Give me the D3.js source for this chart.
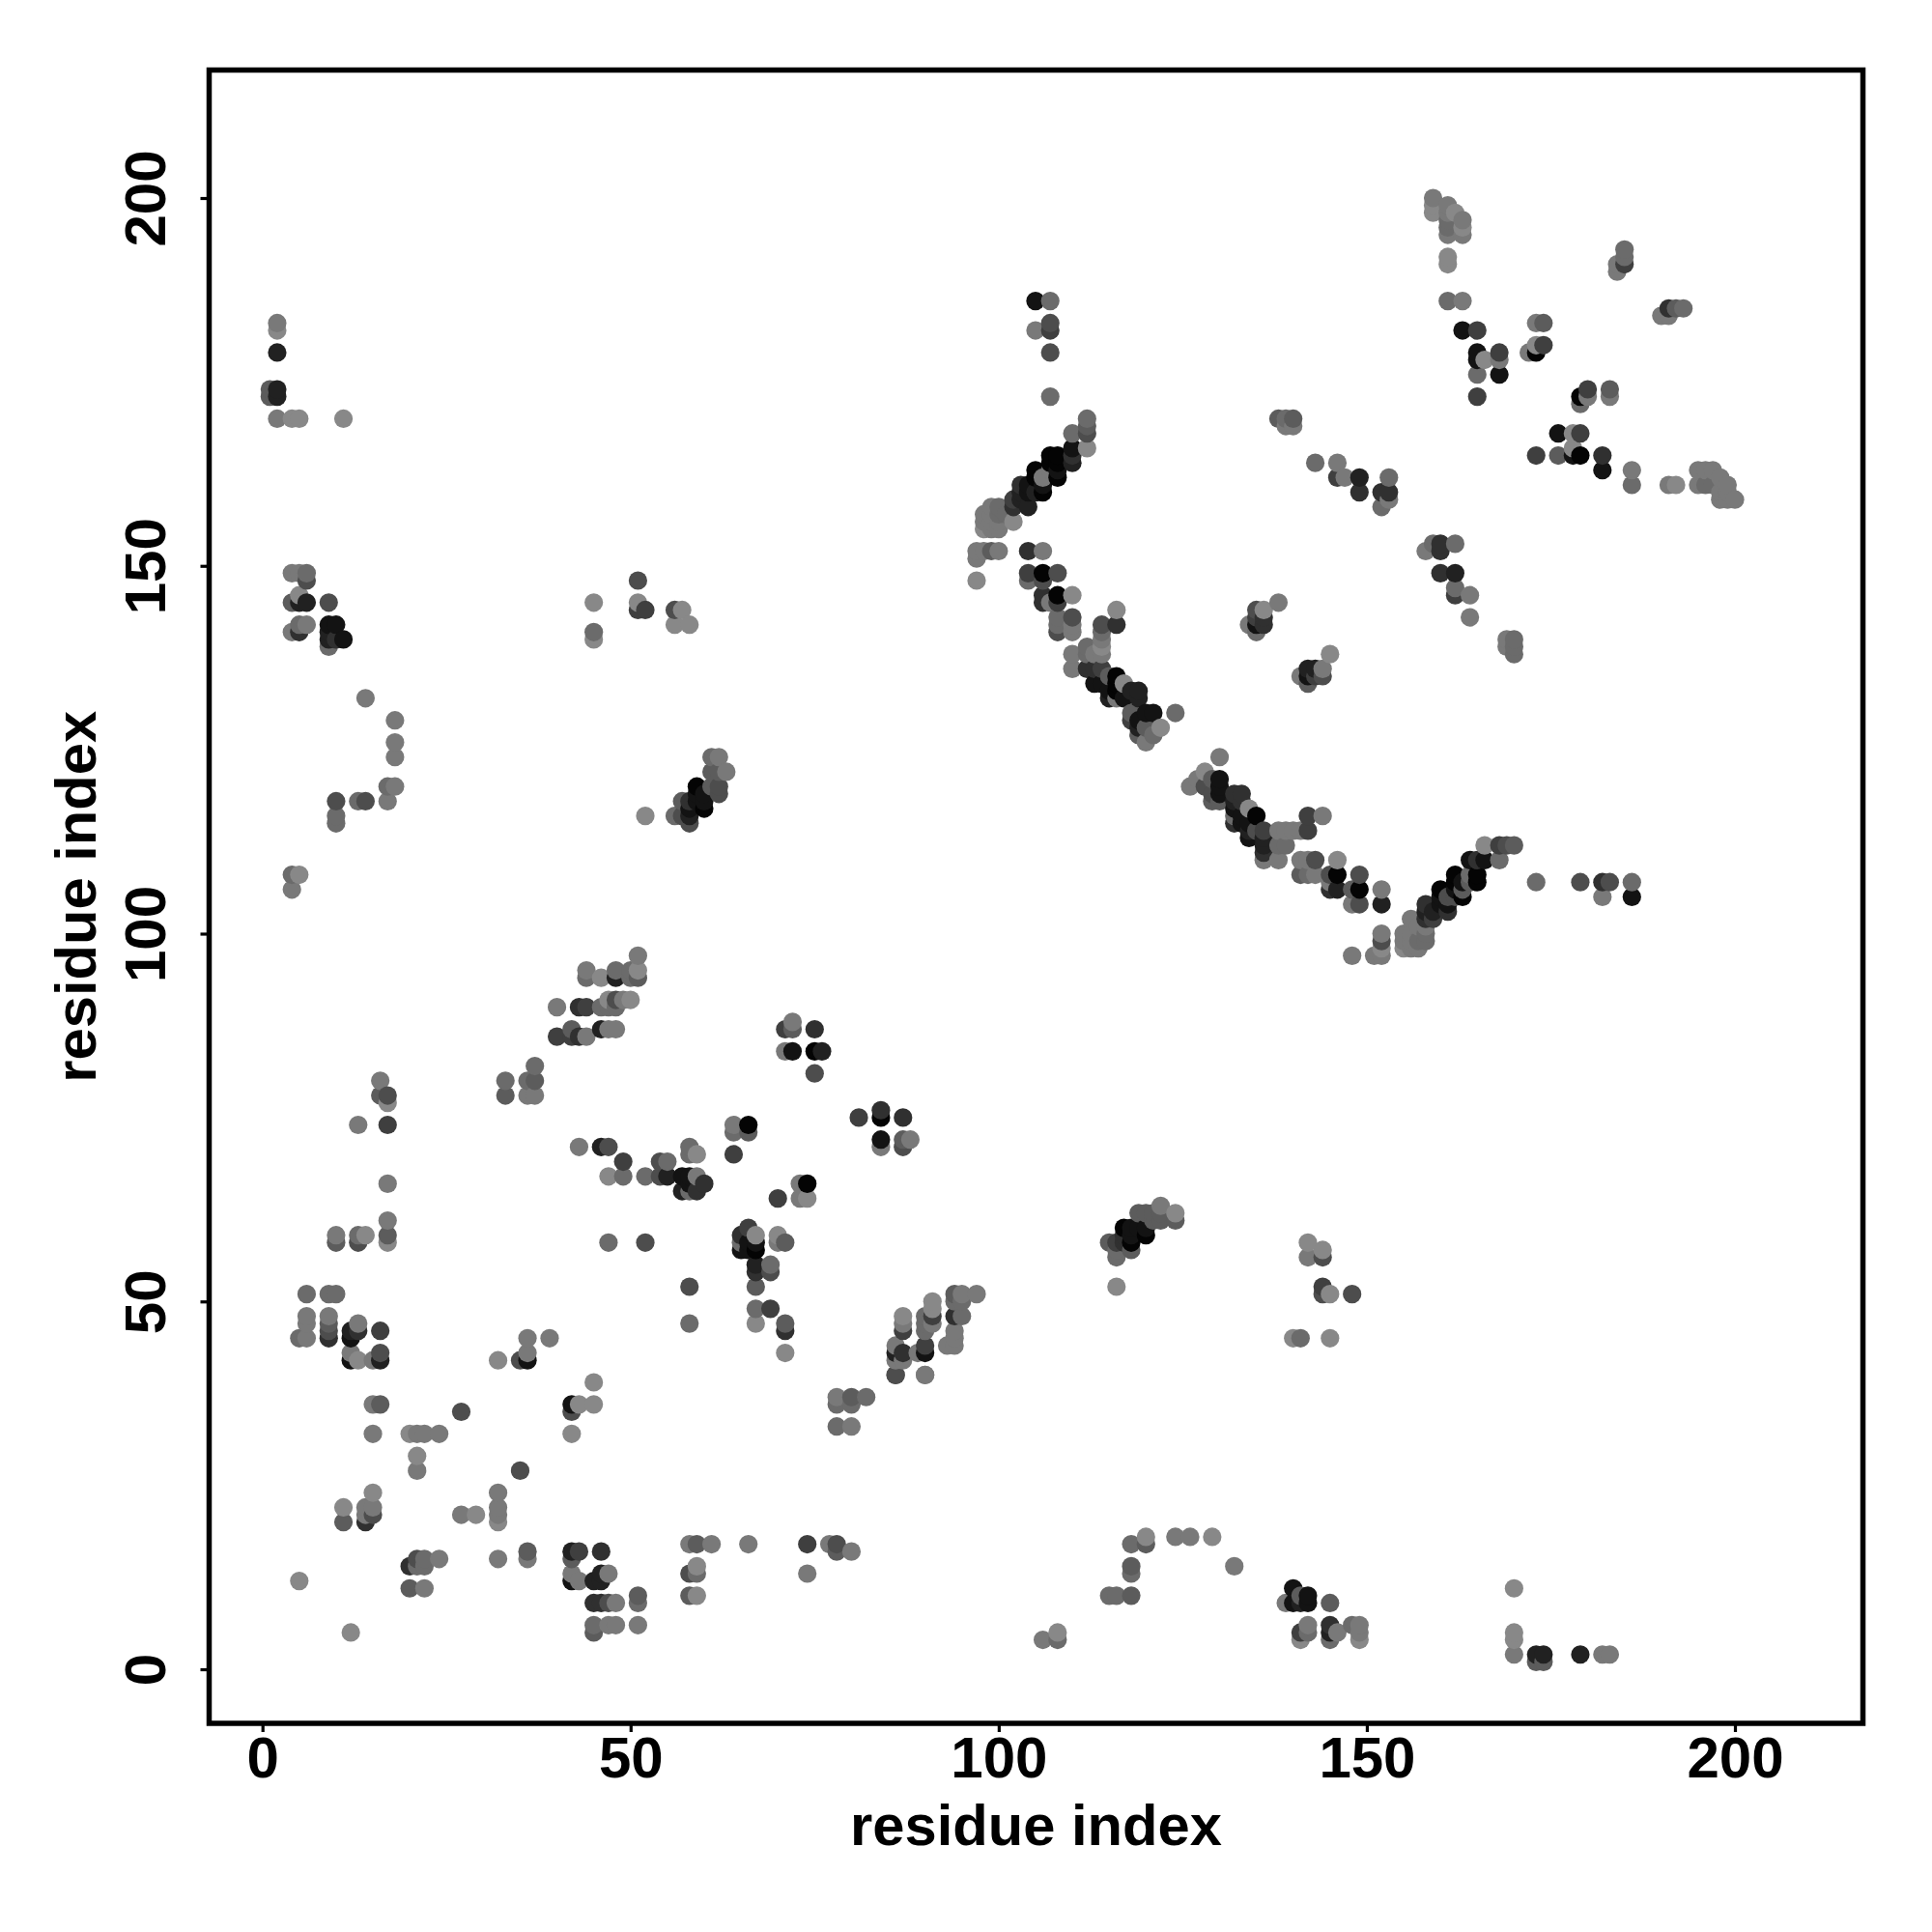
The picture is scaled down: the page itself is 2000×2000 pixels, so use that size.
<!DOCTYPE html>
<html><head><meta charset="utf-8">
<script src="https://cdn.jsdelivr.net/npm/d3@7"></script>
<style>html,body{margin:0;background:#fff}svg{display:block}text{font-family:"Liberation Sans",Arial,sans-serif;font-weight:bold;fill:#000}</style>
</head><body><div id="c"></div>
<script>
const xTickValues=[0,50,100,150,200], yTickValues=[0,50,100,150,200];
const axisTitle="residue index";
// each contact: [residue x, residue y, shade 0 (light) .. 9 (black)]
const bottomLeft=[[15,24,0],[11,22,0],[11,20,3],[14,20,6],[15,21,4],[14,22,1],[14,21,1],[15,22,1],[27,21,1],[29,21,0],[32,24,1],[32,22,1],[32,21,1],[32,20,0],[32,15,1],[36,16,3],[36,15,1],[5,12,0],[12,5,0],[21,29,0],[21,27,1],[35,27,4],[15,32,1],[20,32,0],[21,32,1],[22,32,1],[24,32,1],[15,36,1],[16,36,3],[27,35,4],[42,36,8],[42,35,4],[43,36,0],[45,36,0],[45,39,0],[42,32,0],[20,14,6],[21,15,4],[22,15,2],[21,14,2],[22,14,2],[24,15,1],[20,11,3],[22,11,1],[42,16,7],[43,16,5],[46,16,6],[42,15,3],[42,13,1],[42,12,8],[43,12,1],[45,12,7],[46,12,7],[46,13,7],[47,13,1],[45,9,6],[46,9,6],[47,9,4],[48,9,1],[45,6,2],[45,5,3],[47,6,1],[48,6,1],[51,10,3],[51,9,2],[51,6,1],[58,10,3],[59,10,0],[58,13,4],[59,14,0],[59,13,2],[58,17,1],[59,17,3],[61,17,1],[66,17,1],[74,17,5],[74,13,1],[77,17,1],[78,17,4],[78,16,3],[80,16,1],[78,37,1],[78,36,2],[80,37,3],[80,36,2],[82,37,2],[78,33,2],[80,33,1],[86,40,3],[90,40,0]];
const bottomRight=[[106,4,1],[108,5,0],[108,4,2],[118,17,2],[120,18,0],[120,17,3],[124,18,1],[126,18,1],[129,18,0],[132,14,1],[118,14,3],[118,13,2],[115,10,2],[116,10,2],[118,10,3],[140,11,8],[140,9,8],[142,10,8],[142,9,8],[141,9,7],[139,9,1],[141,10,3],[145,9,3],[142,6,1],[142,5,2],[141,5,5],[141,4,0],[145,6,6],[145,5,7],[145,4,2],[146,5,1],[148,6,2],[149,6,1],[149,5,1],[149,4,0],[170,11,0],[170,5,0],[170,4,0],[170,2,1],[173,2,7],[174,2,7],[173,1,3],[174,1,3],[179,2,7],[182,2,1],[183,2,1]];
const midLeft=[[16,80,1],[16,78,3],[17,78,4],[17,77,0],[13,74,1],[17,74,5],[17,66,1],[17,61,1],[17,59,3],[17,58,0],[10,59,1],[10,58,3],[13,59,2],[13,58,4],[14,59,0],[33,80,2],[33,78,3],[36,80,2],[37,80,3],[37,82,2],[36,78,1],[37,78,1],[43,71,1],[46,71,7],[47,71,4],[47,67,0],[49,69,5],[6,51,2],[9,51,2],[10,51,2],[6,48,1],[6,47,1],[5,45,2],[6,45,1],[9,48,1],[9,47,3],[9,46,4],[9,45,6],[12,46,7],[12,45,8],[13,46,6],[13,47,1],[16,46,5],[12,43,1],[12,42,8],[13,42,0],[15,42,1],[16,42,7],[16,43,4],[32,42,0],[35,42,4],[36,42,8],[36,43,1],[36,45,1],[39,45,1],[47,58,2]];
const midCentre=[[51,97,1],[48,95,2],[48,94,7],[50,95,2],[51,95,0],[51,94,3],[50,94,2],[44,94,2],[44,95,1],[46,94,0],[50,91,0],[49,91,1],[48,91,4],[47,91,0],[48,90,2],[47,90,2],[46,90,2],[40,90,1],[43,90,6],[44,90,5],[48,87,1],[47,87,1],[46,87,7],[40,86,5],[42,86,5],[43,86,6],[44,86,1],[42,87,3],[72,88,1],[71,87,5],[72,87,3],[75,87,6],[71,84,1],[72,84,8],[75,84,9],[76,84,7],[75,81,4],[81,75,5],[84,76,6],[84,75,9],[87,75,6],[84,72,8],[84,71,1],[87,72,3],[87,71,4],[88,72,1],[64,74,1],[64,73,2],[66,74,9],[66,73,3],[64,70,5],[49,67,2],[52,67,2],[54,69,4],[55,69,2],[54,67,4],[55,67,7],[58,71,2],[58,70,2],[59,70,0],[57,67,8],[58,67,8],[57,65,7],[58,66,8],[59,67,1],[59,65,6],[60,66,6],[58,65,2],[70,64,5],[73,66,1],[74,66,9],[73,64,1],[74,64,0],[65,59,6],[66,60,5],[67,59,0],[65,58,2],[65,57,8],[66,58,8],[67,58,8],[66,57,8],[67,57,9],[67,55,7],[67,54,6],[69,55,2],[69,54,4],[67,52,3],[70,59,0],[70,58,1],[71,58,3],[52,58,4],[58,52,4],[58,47,2],[67,49,2],[69,49,5],[67,47,0],[71,47,3],[71,46,6],[71,43,0],[95,51,1],[97,51,1],[94,51,3],[94,50,2],[95,50,2],[94,48,6],[95,48,2],[94,46,1],[94,45,1],[93,44,1],[94,44,1],[91,50,0],[91,49,0],[91,48,5],[90,48,2],[90,47,2],[91,47,1],[90,46,2],[90,44,5],[90,43,8],[89,43,1],[87,48,0],[87,47,1],[87,46,5],[86,44,1],[86,43,7],[87,43,6],[86,42,1],[87,42,1],[86,40,4],[90,40,1]];
const topLeft=[[2,183,1],[2,182,0],[2,179,7],[1,174,3],[1,173,3],[2,174,7],[2,173,7],[2,170,1],[4,170,0],[5,170,0],[11,170,0],[4,149,1],[5,149,1],[6,149,2],[6,148,4],[5,146,0],[4,145,3],[5,145,7],[6,145,7],[9,145,4],[5,142,2],[6,142,1],[5,141,6],[4,141,1],[9,142,8],[10,142,8],[9,141,7],[9,140,7],[10,140,6],[11,140,8],[9,139,2],[14,132,1],[18,129,1],[18,126,1],[18,124,1],[17,120,2],[18,120,1],[17,118,1],[10,118,4],[10,116,2],[10,115,2],[13,118,2],[14,118,4],[4,108,2],[5,108,0],[4,106,1],[45,145,0],[45,141,2],[45,140,0],[51,148,4],[51,145,0],[51,144,5],[52,144,5],[56,144,4],[57,144,0],[56,142,0],[58,142,0],[52,116,0],[56,116,2],[57,118,3],[57,116,4],[58,115,4],[58,116,7],[58,118,6],[59,120,9],[59,118,8],[60,117,9],[60,119,8],[59,119,8],[61,120,3],[62,120,4],[61,122,3],[62,122,3],[63,122,1],[61,124,2],[62,124,1],[62,119,4],[58,117,8],[60,118,8]];
const upperArm=[[105,186,8],[107,186,2],[105,182,1],[107,183,4],[107,182,5],[107,179,4],[107,173,2],[112,170,2],[112,169,3],[112,168,4],[112,166,0],[110,168,2],[110,166,8],[110,165,6],[110,164,7],[107,165,9],[108,165,9],[107,164,9],[108,164,9],[108,162,9],[107,163,1],[108,163,8],[105,163,9],[106,162,1],[105,162,9],[106,161,8],[106,160,9],[105,160,7],[104,161,8],[103,161,6],[103,160,7],[104,160,8],[104,158,7],[103,159,7],[102,159,5],[102,158,6],[102,156,0],[99,158,1],[100,158,2],[98,157,1],[99,157,1],[100,157,2],[101,157,2],[98,156,1],[99,156,1],[100,156,1],[98,155,0],[99,155,1],[100,155,1],[97,152,1],[98,152,1],[99,152,3],[100,152,1],[97,151,1],[97,148,0]];
const lowerArm=[[104,152,6],[106,152,1],[104,149,5],[104,148,2],[106,149,9],[108,149,4],[106,148,4],[106,146,6],[106,145,6],[108,146,9],[108,145,5],[107,145,1],[110,146,0],[108,143,2],[108,142,2],[108,141,4],[110,143,4],[110,142,1],[110,141,1],[116,144,0],[116,142,6],[114,142,4],[114,141,2],[114,140,1],[114,139,0],[114,138,1],[112,139,2],[113,138,1],[112,138,2],[110,138,1],[110,136,1],[112,136,6],[113,136,6],[114,136,5],[113,134,8],[115,135,3],[116,135,9],[115,132,7],[116,132,1],[116,133,9],[116,134,9],[117,134,0],[118,133,7],[119,133,7],[119,132,7],[117,132,8],[114,134,8],[115,133,8],[124,130,2],[121,130,8],[120,130,8],[118,130,3],[122,128,0],[121,127,2],[120,126,1],[118,129,5],[119,129,8],[119,128,7],[120,128,3],[119,127,3],[130,124,1],[128,122,0],[126,120,1],[127,121,1],[128,120,4],[129,121,3],[130,121,8],[130,120,8],[130,119,8],[129,119,4],[129,118,3],[130,118,3],[132,119,6],[133,119,6],[132,118,7],[133,118,6],[132,117,8],[134,117,0],[135,116,9],[132,116,2],[133,116,8],[132,115,6],[136,114,5],[134,114,7],[135,114,4],[134,113,8],[136,113,7],[136,112,7],[136,111,6],[134,115,8],[133,115,8],[136,110,1],[138,110,1],[138,112,2],[139,112,2],[138,114,1],[139,114,1],[140,114,1],[141,114,1],[142,114,5],[142,116,5],[144,116,1],[141,110,1],[142,110,1],[143,110,4],[141,108,3],[142,108,2],[143,108,1],[146,110,0],[145,108,4],[146,108,9],[145,107,1],[145,106,6],[146,106,7],[149,108,4],[149,106,9],[148,106,3],[148,104,1],[149,104,4],[152,106,1],[152,104,7],[152,100,1],[152,99,4],[152,98,0],[152,97,1],[151,97,1],[148,97,1]];
const risingArm=[[156,102,1],[155,100,1],[155,99,1],[155,98,0],[156,100,1],[156,99,1],[157,101,1],[158,100,2],[158,99,2],[157,99,2],[157,98,1],[156,98,1],[158,101,1],[158,104,6],[158,103,7],[158,102,6],[159,103,7],[159,102,5],[160,106,9],[160,105,8],[160,104,8],[161,103,6],[161,104,8],[161,105,4],[162,108,9],[162,107,9],[162,105,4],[162,106,8],[163,105,9],[163,106,3],[163,107,8],[164,110,8],[165,110,6],[166,110,8],[164,108,2],[165,108,9],[165,107,9],[164,107,3],[166,112,0],[168,112,5],[169,112,4],[170,112,3],[168,110,2],[173,107,2],[179,107,4],[182,107,6],[183,107,4],[186,107,2],[182,105,1],[186,105,8]];
const topRight=[[159,200,1],[159,199,0],[159,198,0],[161,199,1],[161,198,1],[161,197,2],[161,196,2],[161,195,1],[162,198,0],[163,197,1],[163,196,0],[163,195,1],[161,192,0],[161,191,0],[161,186,2],[163,186,1],[163,182,8],[165,182,5],[165,179,8],[165,178,8],[166,178,0],[168,179,5],[168,178,1],[165,176,2],[168,176,8],[165,173,5],[173,183,1],[174,183,3],[172,179,1],[173,180,0],[173,179,9],[174,180,5],[180,174,5],[180,173,1],[179,173,9],[179,172,2],[183,174,3],[183,173,1],[176,168,8],[178,168,0],[179,168,5],[178,166,0],[173,165,5],[176,165,3],[178,165,8],[179,165,9],[182,165,6],[182,163,8],[186,163,1],[186,161,2],[191,161,1],[192,161,0],[195,163,1],[196,163,1],[197,163,1],[198,162,1],[195,161,1],[196,161,2],[197,161,2],[199,161,1],[198,160,1],[199,160,1],[198,159,1],[199,159,1],[200,159,1],[185,193,2],[185,192,2],[185,191,5],[184,191,1],[184,190,1],[191,185,6],[192,185,3],[193,185,2],[190,184,1],[191,184,1],[138,170,3],[139,170,2],[140,170,3],[139,169,1],[140,169,1],[143,164,2],[146,164,1],[146,162,5],[147,162,1],[149,162,7],[149,160,6],[153,162,2],[152,160,6],[153,160,6],[153,159,1],[152,158,2]];
const rightMiddle=[[158,152,1],[159,153,2],[160,153,6],[160,152,6],[162,153,2],[160,149,6],[162,149,7],[162,147,2],[162,146,5],[164,146,1],[164,143,1],[169,140,1],[170,140,2],[169,139,1],[170,139,2],[170,138,2],[138,145,1],[135,144,4],[136,144,0],[135,143,5],[136,143,6],[136,142,6],[135,142,8],[134,142,1],[135,141,2],[145,138,0],[142,136,7],[143,136,7],[144,136,1],[142,135,8],[143,135,5],[144,135,4],[141,135,1],[142,134,3]];
const lowerRight=[[122,63,1],[124,62,0],[124,61,3],[122,62,3],[122,61,3],[121,62,3],[120,62,3],[119,62,3],[121,61,3],[120,60,8],[120,59,9],[119,60,8],[117,60,9],[118,60,8],[118,59,8],[117,59,6],[118,58,9],[117,58,6],[116,58,5],[115,58,3],[116,57,2],[118,57,3],[116,56,2],[116,52,0],[142,58,0],[142,56,1],[144,57,0],[144,56,4],[144,52,5],[144,51,4],[145,51,0],[148,51,4],[140,45,0],[141,45,2],[145,45,0]];

const W=2000,H=2000,L=216.5,R=1928.5,T=72.5,B=1784;
const contacts=[bottomLeft,bottomRight,midLeft,midCentre,topLeft,upperArm,lowerArm,risingArm,topRight,rightMiddle,lowerRight].flat()
  .map(([x,y,s])=>({x,y,s}))
  .sort((a,b)=>d3.ascending(a.x,b.x)||d3.ascending(a.y,b.y));
const x=d3.scaleLinear().domain([0,200]).range([271.7,1796]);
const y=d3.scaleLinear().domain([0,200]).range([1728,205]);
const shade=d3.scaleLinear().domain([0,9]).range([136,4]);
const svg=d3.select('#c').append('svg').attr('width',W).attr('height',H);
svg.append('rect').attr('width',W).attr('height',H).attr('fill','#fff');
svg.append('g').selectAll('circle').data(contacts).join('circle')
  .attr('cx',d=>x(d.x)).attr('cy',d=>y(d.y)).attr('r',9.6)
  .attr('fill',d=>{const g=Math.round(shade(d.s));return d3.rgb(g,g,g)});
svg.append('rect').attr('x',L).attr('y',T).attr('width',R-L).attr('height',B-T)
  .attr('fill','none').attr('stroke','#000').attr('stroke-width',5.5);
const gx=svg.append('g').attr('transform',`translate(0,${B})`).call(d3.axisBottom(x).tickValues(xTickValues).tickSize(9));
const gy=svg.append('g').attr('transform',`translate(${L},0)`).call(d3.axisLeft(y).tickValues(yTickValues).tickSize(9));
[gx,gy].forEach(g=>{g.select('.domain').remove();g.selectAll('line').attr('stroke','#000').attr('stroke-width',3.2);
  g.selectAll('text').attr('font-size',60).attr('fill','#000').attr('font-family','"Liberation Sans"').attr('font-weight','bold')});
gx.selectAll('text').attr('y',55.5).attr('dy',0).attr('text-anchor','middle');
gy.selectAll('text').attr('x',0).attr('dy',0).attr('y',0).attr('text-anchor','middle').attr('transform','translate(-45.5,0) rotate(-90)');
svg.append('text').attr('x',(L+R)/2).attr('y',1910).attr('text-anchor','middle').attr('font-size',59.7).text(axisTitle);
svg.append('text').attr('transform',`translate(99,${(T+B)/2}) rotate(-90)`).attr('text-anchor','middle').attr('font-size',59.7).text(axisTitle);
</script></body></html>
